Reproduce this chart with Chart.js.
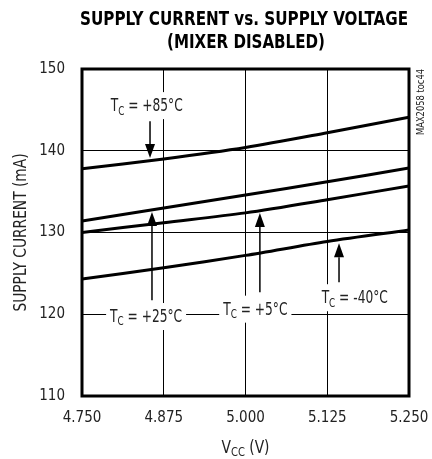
<!DOCTYPE html>
<html>
<head>
<meta charset="utf-8">
<script src="https://cdn.jsdelivr.net/npm/chart.js@4.4.1/dist/chart.umd.min.js"></script>
<style>
  html, body { margin: 0; padding: 0; background: #fff; }
  #wrap { width: 432px; height: 459px; }
</style>
</head>
<body>
<div id="wrap"><canvas id="chart" width="432" height="459"></canvas></div>
<script>
// Courbes (courant d'alimentation en mA vs VCC en V)
const vcc = [4.75, 4.875, 5.0, 5.125, 5.25];
const icc85 = [137.8, 139.0, 140.4, 142.2, 144.1];
const icc25 = [131.4, 133.0, 134.6, 136.2, 137.9];
const icc5 = [130.0, 131.2, 132.4, 134.0, 135.7];
const iccM40 = [124.3, 125.7, 127.2, 128.9, 130.3];

const xTicks = [4.75, 4.875, 5.0, 5.125, 5.25];
const yTicks = [110, 120, 130, 140, 150];

const titleLines = ['SUPPLY CURRENT vs. SUPPLY VOLTAGE', '(MIXER DISABLED)'];
const yTitle = 'SUPPLY CURRENT (mA)';
const tempLabels = ['+85°C', '+25°C', '+5°C', '-40°C'];
// position des étiquettes et des flèches, en unités des axes (V, mA)
const labelX = [4.849, 4.848, 5.015, 5.167];
const labelY = [144.85, 119.05, 119.95, 121.35];
const arrowX = [4.854, 4.857, 5.022, 5.143];
const arrowFrom = [143.6, 121.7, 122.7, 123.9];
const arrowTo = [139.1, 132.5, 132.4, 128.7];

const FONT = '"Liberation Sans Narrow", "Arial Narrow", "DejaVu Sans Condensed", sans-serif';

// écrit un texte avec indices, étiré horizontalement à la largeur voulue
function drawRich(ctx, parts, x, y, size, align, targetW, weight) {
    weight = weight || 'normal';
    const widths = parts.map(([t, sub]) => {
        ctx.font = weight + ' ' + (sub ? size * 0.72 : size) + 'px ' + FONT;
        return ctx.measureText(t).width;
    });
    const natural = widths.reduce((a, b) => a + b, 0);
    const k = targetW ? targetW / natural : 1;
    const w = natural * k;
    const start = align === 'center' ? x - w / 2 : (align === 'right' ? x - w : x);
    ctx.save();
    ctx.translate(start, y);
    ctx.scale(k, 1);
    ctx.textAlign = 'left';
    ctx.textBaseline = 'alphabetic';
    let cx = 0;
    parts.forEach(([t, sub], i) => {
        ctx.font = weight + ' ' + (sub ? size * 0.72 : size) + 'px ' + FONT;
        ctx.fillText(t, cx, sub ? size * 0.2 : 0);
        cx += widths[i];
    });
    ctx.restore();
    return { left: start, right: start + w, k: k };
}

function arrow(ctx, x, y0, y1) {
    const dir = y1 > y0 ? 1 : -1;
    const head = 14;
    ctx.save();
    ctx.strokeStyle = '#000';
    ctx.fillStyle = '#000';
    ctx.lineWidth = 1.5;
    ctx.beginPath();
    ctx.moveTo(x, y0);
    ctx.lineTo(x, y1 - dir * head);
    ctx.stroke();
    ctx.beginPath();
    ctx.moveTo(x, y1);
    ctx.lineTo(x - 5, y1 - dir * head);
    ctx.lineTo(x + 5, y1 - dir * head);
    ctx.closePath();
    ctx.fill();
    ctx.restore();
}

const decor = {
    id: 'decor',
    afterDraw(chart) {
        const ctx = chart.ctx;
        const a = chart.chartArea;
        const xs = chart.scales.x, ys = chart.scales.y;
        ctx.save();
        ctx.fillStyle = '#000';

        // titre
        drawRich(ctx, [[titleLines[0], 0]], 244, 25, 20, 'center', 328, 'bold');
        drawRich(ctx, [[titleLines[1], 0]], 246, 48, 20, 'center', 158, 'bold');

        // cadre
        ctx.lineWidth = 3;
        ctx.strokeStyle = '#000';
        ctx.strokeRect(a.left, a.top, a.right - a.left, a.bottom - a.top);

        // étiquettes de température + flèches
        ctx.fillStyle = '#222';
        ctx.font = '17px ' + FONT;
        let ref = ctx.measureText('T = +85°C').width;
        ctx.font = (17 * 0.72) + 'px ' + FONT;
        ref += ctx.measureText('C').width;
        const k = 72 / ref;
        tempLabels.forEach((t, i) => {
            const px = xs.getPixelForValue(labelX[i]);
            const py = ys.getPixelForValue(labelY[i]);
            const parts = [['T', 0], ['C', 1], [' = ' + t, 0]];
            // mesure d'abord pour le fond blanc
            let nat = 0;
            parts.forEach(([s, sub]) => {
                ctx.font = (sub ? 17 * 0.72 : 17) + 'px ' + FONT;
                nat += ctx.measureText(s).width;
            });
            const w = nat * k;
            ctx.fillStyle = '#fff';
            ctx.fillRect(px - w / 2 - 4, py - 19, w + 8, 27);
            ctx.fillStyle = '#222';
            drawRich(ctx, parts, px, py, 17, 'center', w);
            arrow(ctx, xs.getPixelForValue(arrowX[i]), ys.getPixelForValue(arrowFrom[i]), ys.getPixelForValue(arrowTo[i]));
        });

        // titres des axes
        ctx.fillStyle = '#222';
        ctx.save();
        ctx.translate(26, (a.top + a.bottom) / 2);
        ctx.rotate(-Math.PI / 2);
        drawRich(ctx, [[yTitle, 0]], 0, 0, 17, 'center', 158);
        ctx.restore();
        drawRich(ctx, [['V', 0], ['CC', 1], [' (V)', 0]], (a.left + a.right) / 2, 453, 17, 'center', 48);

        // référence de la figure
        ctx.save();
        ctx.translate(424, 102);
        ctx.rotate(-Math.PI / 2);
        drawRich(ctx, [['MAX2058 toc44', 0]], 0, 0, 10, 'center', 66);
        ctx.restore();

        ctx.restore();
    }
};

function serie(data) {
    return {
        data: vcc.map((v, i) => ({ x: v, y: data[i] })),
        borderColor: '#000',
        borderWidth: 3,
        pointRadius: 0,
        tension: 0.3,
        fill: false
    };
}

new Chart(document.getElementById('chart'), {
    type: 'line',
    data: {
        datasets: [serie(icc85), serie(icc25), serie(icc5), serie(iccM40)]
    },
    options: {
        responsive: false,
        animation: false,
        devicePixelRatio: 1,
        layout: { padding: { top: 69, right: 23, bottom: 0, left: 0 } },
        plugins: {
            legend: { display: false },
            title: { display: false },
            tooltip: { enabled: false }
        },
        scales: {
            x: {
                type: 'linear',
                min: 4.75,
                max: 5.25,
                afterBuildTicks: s => { s.ticks = xTicks.map(v => ({ value: v })); },
                afterFit: s => { s.height = 63; s.paddingLeft = 0; s.paddingRight = 0; },
                grid: { color: '#000', lineWidth: 1, drawTicks: false },
                border: { display: false },
                ticks: {
                    color: '#222',
                    padding: 13,
                    maxRotation: 0,
                    font: { family: FONT, size: 15 },
                    callback: v => Number(v).toFixed(3)
                }
            },
            y: {
                min: 110,
                max: 150,
                afterBuildTicks: s => { s.ticks = yTicks.map(v => ({ value: v })); },
                afterFit: s => { s.width = 82; s.paddingTop = 0; s.paddingBottom = 0; },
                grid: { color: '#000', lineWidth: 1, drawTicks: false },
                border: { display: false },
                ticks: {
                    color: '#222',
                    padding: 17,
                    font: { family: FONT, size: 15 }
                }
            }
        }
    },
    plugins: [decor]
});
</script>
</body>
</html>
